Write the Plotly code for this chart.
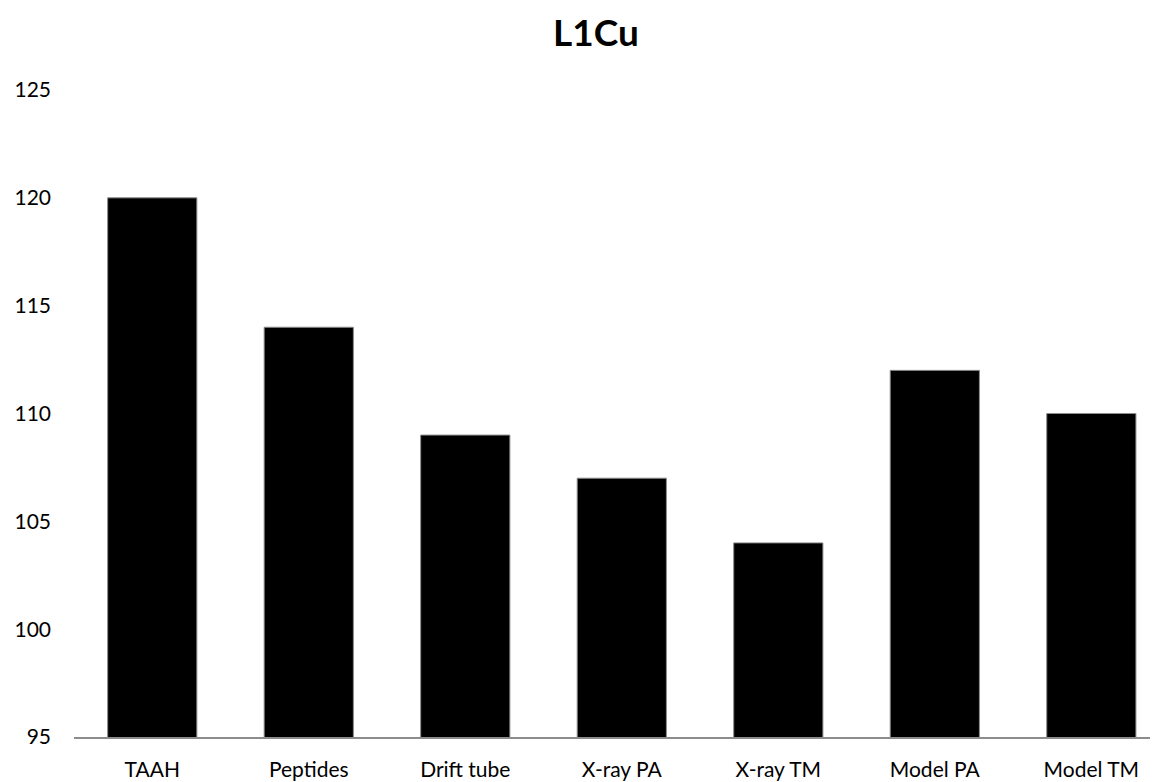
import plotly.graph_objects as go

categories = ["TAAH", "Peptides", "Drift tube", "X-ray PA", "X-ray TM", "Model PA", "Model TM"]
values = [120, 114, 109, 107, 104, 112, 110]
y_ticks = [95, 100, 105, 110, 115, 120, 125]

fig = go.Figure(
    go.Bar(
        x=categories,
        y=values,
        width=0.57,
        marker=dict(color="#000000", line=dict(color="#8c8c8c", width=1)),
    )
)

W, H = 1150, 774  # page body adds an 8px offset

fig.update_layout(
    width=W,
    height=H,
    margin=dict(l=66, r=0, t=82, b=45),
    paper_bgcolor="white",
    plot_bgcolor="white",
    showlegend=False,
    font=dict(family="Lato", color="#000000", size=22),
    title=dict(
        text="<b>L1Cu</b>",
        font=dict(family="Lato", size=37, color="#000000"),
        x=588 / W,
        xanchor="center",
        xref="container",
        y=1 - 25 / H,
        yanchor="middle",
        yref="container",
    ),
    xaxis=dict(
        type="category",
        range=[-0.5, 6.426],
        showline=True,
        linecolor="#8c8c8c",
        linewidth=1.5,
        showgrid=False,
        ticks="",
        ticklabelstandoff=13,
        tickfont=dict(size=21),
    ),
    yaxis=dict(
        range=[95, 125],
        tickvals=y_ticks,
        showgrid=False,
        zeroline=False,
        showline=False,
        ticks="",
        ticklabelstandoff=22,
        tickfont=dict(size=21),
    ),
)

fig.write_html("out.html")
